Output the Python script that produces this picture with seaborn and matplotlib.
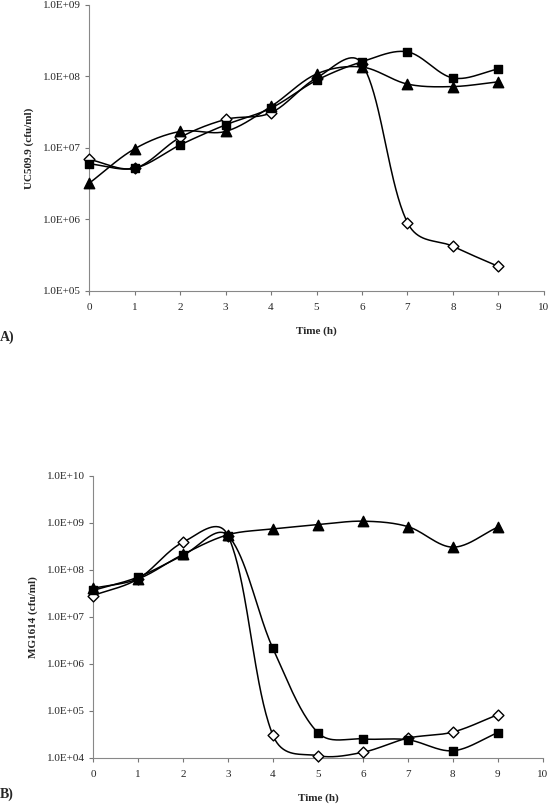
import numpy as np
import pandas as pd
import matplotlib
matplotlib.use("Agg")
import matplotlib.pyplot as plt
from matplotlib.ticker import FuncFormatter, LogLocator, NullLocator
import seaborn as sns

# Tiempo (h)
horas = [0, 1, 2, 3, 4, 5, 6, 7, 8, 9]

# Panel A: UC509.9 (cfu/ml)
a_diamante = [6.9e6, 5.2e6, 1.4e7, 2.5e7, 3.1e7, 9.5e7, 1.5e8, 9.0e5, 4.2e5, 2.2e5]
a_cuadrado = [6.0e6, 5.2e6, 1.1e7, 2.1e7, 3.6e7, 8.8e7, 1.6e8, 2.2e8, 9.5e7, 1.27e8]
a_triangulo = [3.2e6, 9.7e6, 1.7e7, 1.7e7, 3.8e7, 1.08e8, 1.35e8, 7.8e7, 7.2e7, 8.4e7]

# Panel B: MG1614 (cfu/ml)
b_diamante = [2.8e7, 6.3e7, 3.8e8, 5.3e8, 3.0e4, 1.1e4, 1.3e4, 2.6e4, 3.5e4, 8.2e4]
b_cuadrado = [3.6e7, 6.9e7, 2.0e8, 5.3e8, 2.1e6, 3.4e4, 2.5e4, 2.4e4, 1.4e4, 3.4e4]
b_triangulo = [4.0e7, 6.3e7, 2.1e8, 5.5e8, 7.3e8, 9.0e8, 1.07e9, 8.2e8, 3.0e8, 8.0e8]


def suavizar(x, y, sx, sy, n=40):
    # curva suavizada tipo Excel: Bezier con tangentes ponderadas,
    # calculada en pixeles (x lineal, y log)
    x = np.asarray(x, float) * sx
    ly = np.log10(np.asarray(y, float)) * sy
    P = np.column_stack([x, ly])
    P = np.vstack([P[0], P, P[-1]])
    xs, ys = [], []
    t = np.linspace(0, 1, n)[:, None]
    for i in range(1, len(P) - 2):
        p0, p3 = P[i], P[i + 1]
        d0 = np.linalg.norm(P[i] - P[i - 1]) ** 0.5
        d1 = np.linalg.norm(P[i + 1] - P[i]) ** 0.5
        d2 = np.linalg.norm(P[i + 2] - P[i + 1]) ** 0.5
        f1 = d1 / (d0 + d1) if d0 + d1 > 0 else 0
        f2 = d1 / (d1 + d2) if d1 + d2 > 0 else 0
        p1 = p0 + (P[i + 1] - P[i - 1]) * f1 / 3
        p2 = p3 - (P[i + 2] - P[i]) * f2 / 3
        b = (1 - t) ** 3 * p0 + 3 * (1 - t) ** 2 * t * p1 + 3 * (1 - t) * t ** 2 * p2 + t ** 3 * p3
        xs.extend(b[:, 0] / sx)
        ys.extend(b[:, 1] / sy)
    return np.array(xs), 10 ** np.array(ys)


sns.set_style("ticks")
plt.rcParams['font.family'] = ['Liberation Serif', 'DejaVu Serif']

fig = plt.figure(figsize=(5.5, 8.06), dpi=100)
ax_a = fig.add_axes([0.162, 0.639, 0.827, 0.355])
ax_b = fig.add_axes([0.169, 0.060, 0.818, 0.350])

marcadores = [
    ('D', 'white', 5.5),
    ('s', 'black', 6),
    ('^', 'black', 7.5),
]


def dibujar(ax, series, ymin, ymax, ylabel):
    bb = ax.get_window_extent()
    sx = bb.width / 10
    sy = bb.height / np.log10(ymax / ymin)
    for y, (m, fc, ms) in zip(series, marcadores):
        xs, ys = suavizar(horas, y, sx, sy)
        curva = pd.DataFrame({'x': xs, 'y': ys})
        sns.lineplot(data=curva, x='x', y='y', ax=ax, color='black', lw=1.1,
                     sort=False, estimator=None, zorder=2)
        puntos = pd.DataFrame({'x': horas, 'y': y})
        sns.scatterplot(data=puntos, x='x', y='y', ax=ax, marker=m, s=ms ** 2,
                        facecolor=fc, edgecolor='black', linewidth=1.0, zorder=3,
                        clip_on=False)
    ax.set_yscale('log')
    ax.set_ylim(ymin, ymax)
    ax.set_xlim(0, 10)
    ax.set_xticks(range(0, 11))
    ax.yaxis.set_major_locator(LogLocator(base=10, numticks=12))
    ax.yaxis.set_minor_locator(NullLocator())
    ax.yaxis.set_major_formatter(FuncFormatter(lambda v, p: f"{v:.1E}"))
    ax.tick_params(labelsize=8, length=3, width=0.8, color='#777777')
    ax.tick_params(axis='x', pad=6)
    ax.tick_params(axis='y', pad=3)
    for s in ['top', 'right']:
        ax.spines[s].set_visible(False)
    for s in ['left', 'bottom']:
        ax.spines[s].set_color('#888888')
        ax.spines[s].set_linewidth(0.8)
    ax.set_xlabel('Time (h)', fontsize=8, fontweight='bold', labelpad=10)
    ax.set_ylabel(ylabel, fontsize=8, fontweight='bold', labelpad=6)


dibujar(ax_a, [a_diamante, a_cuadrado, a_triangulo], 1e5, 1e9, 'UC509.9 (cfu/ml)')
dibujar(ax_b, [b_diamante, b_cuadrado, b_triangulo], 1e4, 1e10, 'MG1614 (cfu/ml)')

fig.text(0.0, 1 - 337 / 806, 'A)', fontsize=10, fontweight='bold', va='center', ha='left')
fig.text(0.0, 1 - 794 / 806, 'B)', fontsize=10, fontweight='bold', va='center', ha='left')

fig.savefig('out.png', dpi=100)
